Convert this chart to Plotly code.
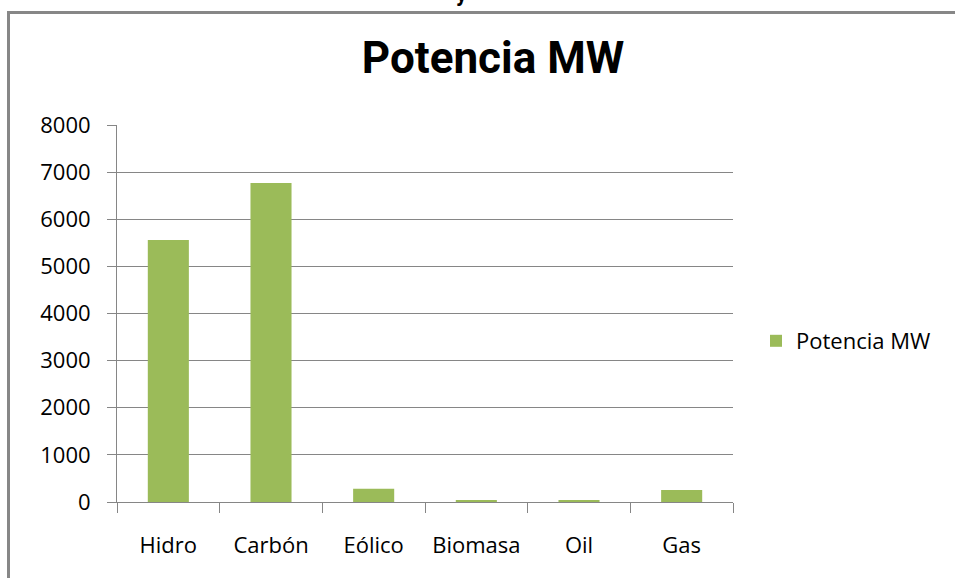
import plotly.graph_objects as go

categories = ["Hidro", "Carbón", "Eólico", "Biomasa", "Oil", "Gas"]
potencia_mw = [5560, 6770, 280, 45, 45, 255]
series_name = "Potencia MW"
y_ticks = [0, 1000, 2000, 3000, 4000, 5000, 6000, 7000, 8000]

W, H = 955, 578
L, R, T, B = 117, 955 - 733, 125, 578 - 502
pw, ph = W - L - R, H - T - B

def px(x):
    return (x - L) / pw

def py(y):
    return 1 - (y - T) / ph

fig = go.Figure()
fig.add_trace(go.Bar(
    x=categories, y=potencia_mw, name=series_name,
    marker=dict(color="#9BBB59", line=dict(width=0)),
    width=0.4,
))

grid = "#868686"
tick_font = dict(family="Open Sans, sans-serif", size=22, color="black")
fig.update_layout(
    width=W, height=H,
    margin=dict(l=L, r=R, t=T, b=B),
    paper_bgcolor="white", plot_bgcolor="white",
    title=dict(text="<b>Potencia MW</b>", x=px(493), xref="paper", xanchor="center",
               y=1 - 58 / H, yanchor="middle",
               font=dict(family="Roboto, sans-serif", size=44, color="black")),
    showlegend=True,
    legend=dict(x=px(756), y=py(341), xanchor="left", yanchor="middle",
                font=dict(family="Open Sans, sans-serif", size=22, color="black"),
                itemwidth=30, bgcolor="rgba(0,0,0,0)"),
    xaxis=dict(
        type="category", tickson="boundaries", ticks="outside", ticklen=10,
        tickcolor=grid, showline=True, linecolor=grid, linewidth=1,
        showgrid=False, tickfont=tick_font,
        ticklabelstandoff=24, mirror=False,
    ),
    yaxis=dict(
        range=[0, 8000], tickvals=y_ticks, ticks="outside", ticklen=9,
        tickcolor=grid, showline=True, linecolor=grid, linewidth=1,
        showgrid=True, gridcolor=grid, gridwidth=1, zeroline=False,
        tickfont=tick_font, ticklabelstandoff=12,
    ),
)

border = "#878787"
fig.add_shape(type="line", xref="paper", yref="paper",
              x0=px(8.5), x1=px(8.5), y0=py(11), y1=py(600),
              line=dict(color=border, width=3))
fig.add_shape(type="line", xref="paper", yref="paper",
              x0=px(7), x1=px(960), y0=py(12.5), y1=py(12.5),
              line=dict(color=border, width=3))
fig.add_annotation(text="<b>y</b>", xref="paper", yref="paper",
                   x=px(462), y=py(8), xanchor="center", yanchor="bottom",
                   showarrow=False, font=dict(family="Roboto, sans-serif", size=22, color="black"))

fig.write_html("out.html", config={"displayModeBar": False},
               post_script="document.body.style.margin='0';document.body.style.overflow='hidden';")
